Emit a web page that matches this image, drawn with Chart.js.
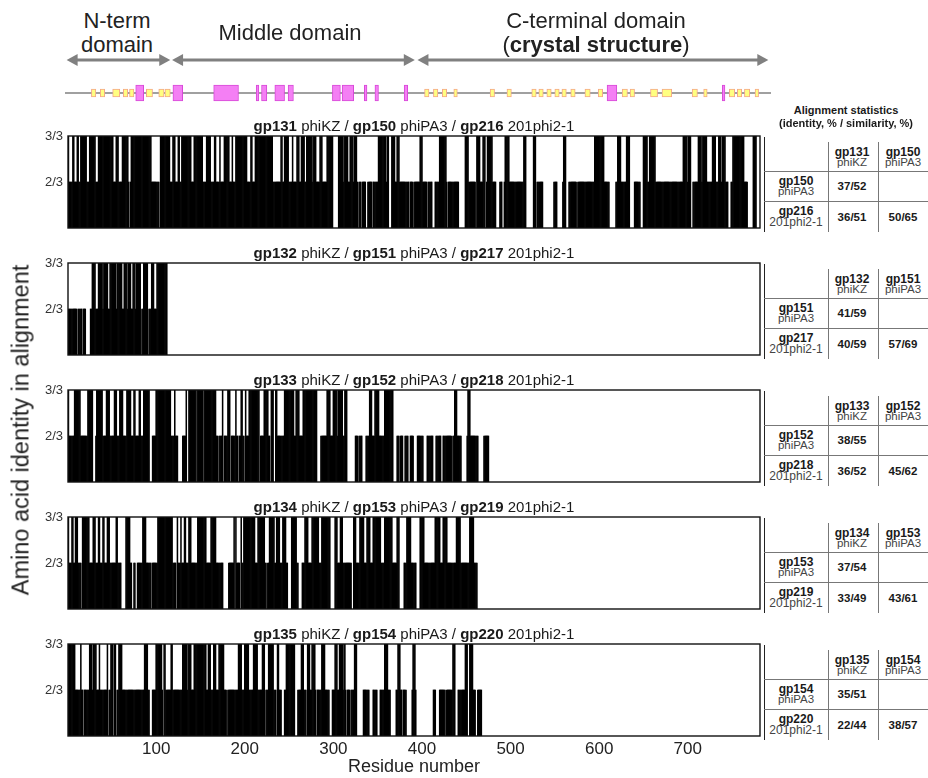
<!DOCTYPE html>
<html><head><meta charset="utf-8">
<script src="https://cdn.jsdelivr.net/npm/chart.js@4/dist/chart.umd.min.js"></script>
<style>
body{margin:0;background:#fff;width:928px;height:778px;overflow:hidden;font-family:"Liberation Sans",Arial,sans-serif;color:#1a1a1a;}
canvas{position:absolute;}
.ptitle{position:absolute;left:68px;width:692px;text-align:center;font-size:15px;line-height:18px;white-space:nowrap;}
.dom{position:absolute;text-align:center;font-size:22px;line-height:24px;white-space:nowrap;color:#222;}
.tl{position:absolute;text-align:center;white-space:nowrap;transform:translate(-50%,-50%);line-height:1;}
.b{font-weight:bold;}
.hl{position:absolute;height:1px;background:#777;}
.vl{position:absolute;width:1px;background:#777;}
</style></head>
<body>
<script>
// ---------------- DATA ----------------
const residueMax = 781;
const xTickValues = [100, 200, 300, 400, 500, 600, 700];
const yTickLabels = {2: '2/3', 3: '3/3'};

// [startResidue, endResidue, level]; level 3 = 3/3, 2 = 2/3, 1 = below 2/3 (no bar)
const gp131Segs = [[1,1,3],[2,5,2],[6,7,3],[8,10,2],[11,12,3],[13,14,2],[15,21,3],[22,24,2],[25,31,3],[32,34,2],[35,51,3],[52,54,2],[55,57,3],[58,61,2],[62,68,3],[69,69,2],[70,70,1],[71,71,2],[72,94,3],[95,103,2],[104,104,1],[105,115,3],[116,118,2],[119,121,3],[122,124,2],[125,126,3],[127,128,2],[129,139,3],[140,142,2],[143,152,3],[153,156,2],[157,161,3],[162,165,2],[166,167,3],[168,171,2],[172,172,3],[173,176,2],[177,182,3],[183,185,2],[186,186,3],[187,189,2],[190,202,3],[203,206,2],[207,208,3],[209,211,2],[212,231,3],[232,240,2],[241,242,3],[243,244,2],[245,249,3],[250,253,2],[254,254,3],[255,258,2],[259,261,3],[262,263,2],[264,267,3],[268,269,2],[270,275,3],[276,276,2],[277,280,3],[281,284,2],[285,287,3],[288,292,2],[293,299,3],[300,305,1],[306,310,3],[311,311,2],[312,316,3],[317,318,2],[319,322,3],[323,323,2],[324,326,3],[327,327,2],[328,328,1],[329,331,2],[332,332,1],[333,336,2],[337,338,1],[339,343,2],[344,344,1],[345,350,2],[351,359,3],[360,360,2],[361,362,3],[363,365,1],[366,369,3],[370,371,2],[372,374,3],[375,385,2],[386,386,1],[387,389,2],[390,390,1],[391,397,2],[398,400,3],[401,405,2],[406,406,1],[407,411,2],[412,414,1],[415,419,2],[420,427,3],[428,428,2],[429,429,1],[430,441,2],[442,448,1],[449,452,3],[453,460,2],[461,461,1],[462,465,3],[466,468,2],[469,471,3],[472,472,1],[473,473,2],[474,479,3],[480,483,2],[484,487,1],[488,490,2],[491,492,1],[493,493,2],[494,498,3],[499,514,2],[515,517,3],[518,525,1],[526,528,3],[529,529,1],[530,536,2],[537,548,1],[549,552,2],[553,558,1],[559,559,2],[560,562,3],[563,565,1],[566,574,2],[575,575,1],[576,594,2],[595,605,3],[606,611,2],[612,618,1],[619,620,2],[621,624,3],[625,630,2],[631,634,3],[635,639,1],[640,646,2],[647,649,1],[650,654,3],[655,656,2],[657,663,3],[664,694,2],[695,699,3],[700,700,2],[701,703,3],[704,705,1],[706,711,2],[712,715,3],[716,716,2],[717,721,3],[722,727,2],[728,731,3],[732,734,2],[735,737,3],[738,738,2],[739,742,3],[743,745,2],[746,748,1],[749,750,2],[751,763,3],[764,767,2],[768,773,1],[774,777,3]];

const gp132Segs = [[1,10,2],[11,11,1],[12,16,2],[17,17,1],[18,20,2],[21,25,1],[26,27,2],[28,31,3],[32,34,2],[35,39,3],[40,40,2],[41,45,3],[46,47,2],[48,54,3],[55,55,2],[56,61,3],[62,63,2],[64,67,3],[68,68,2],[69,71,3],[72,73,2],[74,76,3],[77,77,2],[78,82,3],[83,83,1],[84,85,2],[86,90,3],[91,91,1],[92,94,2],[95,97,3],[98,100,2],[101,112,3]];

const gp133Segs = [[1,1,3],[2,7,2],[8,14,3],[15,22,2],[23,28,3],[29,31,1],[32,32,2],[33,39,3],[40,43,2],[44,47,3],[48,52,2],[53,55,3],[56,58,2],[59,62,3],[63,66,2],[67,71,3],[72,74,2],[75,76,3],[77,80,2],[81,82,3],[83,85,2],[86,92,3],[93,95,1],[96,99,2],[100,116,3],[117,120,2],[121,121,3],[122,124,2],[125,129,1],[130,133,2],[134,134,3],[135,136,1],[137,145,3],[146,146,1],[147,152,3],[153,153,1],[154,167,3],[168,169,2],[170,170,1],[171,174,2],[175,175,3],[176,176,1],[177,180,2],[181,183,3],[184,184,1],[185,189,2],[190,190,3],[191,192,2],[193,193,1],[194,195,2],[196,197,3],[198,199,2],[200,200,1],[201,201,3],[202,204,2],[205,216,3],[217,217,1],[218,221,2],[222,226,3],[227,228,2],[229,229,1],[230,232,3],[233,234,1],[235,236,3],[237,244,2],[245,255,3],[256,257,2],[258,261,3],[262,265,2],[266,281,3],[282,285,1],[286,292,2],[293,296,3],[297,299,2],[300,304,3],[305,305,2],[306,310,3],[311,312,2],[313,315,3],[316,324,1],[325,327,2],[328,328,1],[329,332,2],[333,336,1],[337,340,2],[341,343,3],[344,346,2],[347,351,3],[352,357,2],[358,367,3],[368,371,1],[372,374,2],[375,375,1],[376,378,2],[379,380,1],[381,384,2],[385,386,1],[387,390,2],[391,394,1],[395,401,2],[402,405,1],[406,412,2],[413,415,1],[416,421,2],[422,423,1],[424,433,2],[434,434,1],[435,436,2],[437,439,3],[440,444,2],[445,450,1],[451,451,2],[452,454,3],[455,463,2],[464,469,1],[470,475,2]];

const gp134Segs = [[1,1,3],[2,4,2],[5,6,3],[7,8,2],[9,11,3],[12,15,2],[16,16,1],[17,24,3],[25,28,2],[29,31,3],[32,34,2],[35,36,3],[37,39,2],[40,41,3],[42,44,2],[45,47,3],[48,54,2],[55,56,3],[57,60,2],[61,65,1],[66,70,3],[71,72,2],[73,74,1],[75,76,2],[77,78,1],[79,84,2],[85,88,3],[89,94,2],[95,95,1],[96,101,2],[102,118,3],[119,122,2],[123,123,1],[124,124,3],[125,127,2],[128,128,3],[129,131,2],[132,133,3],[134,136,2],[137,139,3],[140,146,2],[147,156,3],[157,161,2],[162,167,3],[168,175,2],[176,181,1],[182,187,2],[188,188,3],[189,189,1],[190,190,3],[191,194,2],[195,195,1],[196,196,3],[197,198,2],[199,211,3],[212,214,2],[215,222,3],[223,224,2],[225,225,1],[226,227,2],[228,233,3],[234,235,2],[236,239,3],[240,242,2],[243,246,3],[247,248,2],[249,252,1],[253,258,3],[259,260,2],[261,264,1],[265,267,2],[268,271,3],[272,275,2],[276,283,3],[284,286,2],[287,296,3],[297,301,1],[302,304,3],[305,307,2],[308,310,3],[311,320,2],[321,322,1],[323,325,3],[326,329,2],[330,334,3],[335,337,2],[338,341,3],[342,344,2],[345,353,3],[354,357,2],[358,366,3],[367,371,2],[372,374,3],[375,379,1],[380,382,2],[383,387,3],[388,393,2],[394,397,1],[398,402,3],[403,414,2],[415,420,3],[421,423,2],[424,428,3],[429,438,2],[439,443,3],[444,453,2],[454,458,3],[459,462,2]];

const gp135Segs = [[1,8,3],[9,14,2],[15,15,3],[16,17,2],[18,18,1],[19,24,2],[25,27,3],[28,28,2],[29,32,3],[33,35,2],[36,36,3],[37,44,2],[45,45,3],[46,46,1],[47,48,2],[49,51,3],[52,52,1],[53,54,3],[55,55,1],[56,57,2],[58,61,3],[62,86,2],[87,90,3],[91,92,2],[93,95,1],[96,99,2],[100,106,3],[107,107,2],[108,108,1],[109,110,3],[111,116,2],[117,118,3],[119,129,2],[130,134,3],[135,135,2],[136,139,3],[140,142,2],[143,156,3],[157,158,2],[159,161,3],[162,164,2],[165,167,3],[168,170,2],[171,176,3],[177,179,2],[180,180,1],[181,192,2],[193,196,3],[197,199,2],[200,204,3],[205,209,2],[210,214,3],[215,219,2],[220,222,3],[223,223,1],[224,226,2],[227,232,3],[233,235,2],[236,236,1],[237,238,3],[239,241,2],[242,244,1],[245,246,2],[247,256,3],[257,259,1],[260,263,2],[264,266,3],[267,269,2],[270,270,1],[271,273,3],[274,275,2],[276,279,3],[280,280,2],[281,281,1],[282,286,2],[287,290,3],[291,295,2],[296,298,1],[299,301,2],[302,304,3],[305,306,2],[307,310,3],[311,311,2],[312,313,3],[314,314,2],[315,315,1],[316,318,2],[319,319,1],[320,323,2],[324,326,3],[327,333,1],[334,340,2],[341,344,1],[345,349,2],[350,352,1],[353,357,2],[358,361,3],[362,364,2],[365,370,1],[371,372,2],[373,375,3],[376,377,2],[378,378,1],[379,382,2],[383,388,1],[389,389,2],[390,392,3],[393,393,2],[394,412,1],[413,415,2],[416,419,1],[420,426,2],[427,427,1],[428,434,2],[435,437,3],[438,440,1],[441,448,2],[449,451,3],[452,453,1],[454,457,3],[458,460,2],[461,462,1],[463,467,2]];

// secondary structure of the reference protein
const helixSegs = [[77,86],[119,130],[165,193],[213,216],[219,225],[234,245],[249,255],[299,308],[310,323],[335,338],[347,351],[380,384],[609,620],[739,742]];
const strandSegs = [[27,32],[37,42],[51,59],[63,68],[70,75],[89,96],[103,109],[110,116],[403,408],[413,418],[423,428],[436,440],[477,482],[496,501],[524,529],[532,537],[541,546],[550,555],[558,563],[568,573],[584,590],[599,604],[626,632],[635,640],[658,666],[671,682],[705,711],[718,722],[747,753],[756,761],[764,770],[776,780]];
const domainRanges = [[-1,116],[118,392],[395,791]];

// panel titles and alignment statistics
const panelGenes = [
  ['gp131','gp150','gp216'],
  ['gp132','gp151','gp217'],
  ['gp133','gp152','gp218'],
  ['gp134','gp153','gp219'],
  ['gp135','gp154','gp220']
];
const phageNames = ['phiKZ','phiPA3','201phi2-1'];
const statPair12 = ['37/52','41/59','38/55','37/54','35/51'];
const statPair13 = ['36/51','40/59','36/52','33/49','22/44'];
const statPair23 = ['50/65','57/69','45/62','43/61','38/57'];

// ---------------- LAYOUT ----------------
const panelTops = [136, 263, 390, 517, 644];
const allSegs = [gp131Segs, gp132Segs, gp133Segs, gp134Segs, gp135Segs];
const FONT = '"Liberation Sans", Arial, sans-serif';

function el(tag, cls, style, html) {
  const e = document.createElement(tag);
  if (cls) e.className = cls;
  Object.assign(e.style, style || {});
  if (html !== undefined) e.innerHTML = html;
  document.body.appendChild(e);
  return e;
}

const framePlugin = {
  id: 'frame',
  afterDatasetsDraw(chart) {
    const {ctx, chartArea: a} = chart;
    ctx.save();
    ctx.strokeStyle = '#111';
    ctx.lineWidth = 1.4;
    ctx.strokeRect(a.left, a.top, a.right - a.left, a.bottom - a.top);
    ctx.restore();
  }
};

const labels = [];
for (let r = 1; r <= residueMax; r++) labels.push(String(r));

function expand(segs) {
  const vals = new Array(residueMax).fill(null);
  segs.forEach(([s, e, lv]) => {
    for (let r = s; r <= e; r++) vals[r - 1] = lv > 1 ? lv : null;
  });
  return vals;
}

allSegs.forEach((segs, i) => {
  const last = i === 4;
  const top = panelTops[i];
  const cv = el('canvas', '', {left: '18px', top: (top - 8) + 'px'});
  cv.width = 746; cv.height = last ? 142 : 102;
  const xScale = {display: last, grid: {display: false, drawTicks: false}, border: {display: false},
    ticks: {autoSkip: false, maxRotation: 0, padding: 3, color: '#222', font: {family: FONT, size: 17},
      callback: (v, idx) => xTickValues.includes(idx + 1) ? String(idx + 1) : ''},
    title: {display: true, text: 'Residue number', color: '#222', font: {family: FONT, size: 18}, padding: 0}};
  if (last) xScale.afterFit = s => { s.height = 42; s.paddingLeft = 0; s.paddingRight = 0; };
  new Chart(cv.getContext('2d'), {
    type: 'bar',
    data: {labels, datasets: [{data: expand(segs), backgroundColor: '#000', borderWidth: 0,
      barPercentage: 1, categoryPercentage: 1, base: 1}]},
    options: {
      responsive: false, animation: false, events: [],
      layout: {padding: {top: 8, right: 4, bottom: last ? 0 : 2, left: 0}},
      plugins: {legend: {display: false}, tooltip: {enabled: false}},
      scales: {
        x: xScale,
        y: {min: 1, max: 3, beginAtZero: false, grid: {display: false, drawTicks: false}, border: {display: false},
          ticks: {stepSize: 1, padding: 5, color: '#333', font: {family: FONT, size: 13},
            callback: v => yTickLabels[v] || ''},
          afterFit: s => { s.width = 50; s.paddingTop = 0; s.paddingBottom = 0; }}
      }
    },
    plugins: [framePlugin]
  });

  // panel title
  const g = panelGenes[i];
  el('div', 'ptitle', {top: (top - 19) + 'px'},
    `<b>${g[0]}</b> ${phageNames[0]} / <b>${g[1]}</b> ${phageNames[1]} / <b>${g[2]}</b> ${phageNames[2]}`);

  // statistics table
  el('div', 'vl', {left: '764px', top: (top + 1) + 'px', height: '95px', background: '#222'});
  el('div', 'vl', {left: '828px', top: (top + 6) + 'px', height: '90px'});
  el('div', 'vl', {left: '878px', top: (top + 6) + 'px', height: '90px'});
  el('div', 'hl', {left: '764px', top: (top + 35) + 'px', width: '164px'});
  el('div', 'hl', {left: '764px', top: (top + 65) + 'px', width: '164px'});
  const t = (x, y, txt, bold, size) => el('div', 'tl' + (bold ? ' b' : ''),
    {left: x + 'px', top: (top + y) + 'px', fontSize: size + 'px', color: bold ? '#1a1a1a' : '#444'}, txt);
  t(852, 16, g[0], true, 12); t(852, 27, phageNames[0], false, 11.5);
  t(903, 16, g[1], true, 12); t(903, 27, phageNames[1], false, 11.5);
  t(796, 45, g[1], true, 12); t(796, 56, phageNames[1], false, 11.5);
  t(796, 75, g[2], true, 12); t(796, 86, phageNames[2], false, 12);
  t(852, 51, statPair12[i], true, 11.5);
  t(852, 82, statPair13[i], true, 11.5);
  t(903, 82, statPair23[i], true, 11.5);
});

// table heading
el('div', 'tl b', {left: '846px', top: '110px', fontSize: '11px'}, 'Alignment statistics');
el('div', 'tl b', {left: '846px', top: '123px', fontSize: '11px'}, '(identity, % / similarity, %)');

// y axis title
el('div', '', {position: 'absolute', left: '21px', top: '430px', fontSize: '23.5px', whiteSpace: 'nowrap',
  transform: 'translate(-50%,-50%) rotate(-90deg)', color: '#222'}, 'Amino acid identity in alignment');

// domain labels
el('div', 'dom', {left: '57px', width: '120px', top: '9px'}, 'N-term<br>domain');
el('div', 'dom', {left: '190px', width: '200px', top: '21px'}, 'Middle domain');
el('div', 'dom', {left: '446px', width: '300px', top: '9px'}, 'C-terminal domain<br>(<b>crystal structure</b>)');

// secondary structure track + domain arrows
const trackPlugin = {
  id: 'track',
  beforeDatasetsDraw(chart) {
    const {ctx, scales: {x, y}} = chart;
    const yc = y.getPixelForValue(0);
    ctx.save();
    ctx.strokeStyle = '#a0a0a0'; ctx.lineWidth = 2;
    ctx.beginPath(); ctx.moveTo(x.left, yc); ctx.lineTo(x.right, yc); ctx.stroke();
    const ay = 60;
    ctx.strokeStyle = '#808080'; ctx.fillStyle = '#808080'; ctx.lineWidth = 3;
    domainRanges.forEach(([s, e]) => {
      const x1 = x.getPixelForValue(s), x2 = x.getPixelForValue(e);
      ctx.beginPath(); ctx.moveTo(x1 + 8, ay); ctx.lineTo(x2 - 8, ay); ctx.stroke();
      ctx.beginPath(); ctx.moveTo(x1, ay); ctx.lineTo(x1 + 11, ay - 6); ctx.lineTo(x1 + 11, ay + 6); ctx.closePath(); ctx.fill();
      ctx.beginPath(); ctx.moveTo(x2, ay); ctx.lineTo(x2 - 11, ay - 6); ctx.lineTo(x2 - 11, ay + 6); ctx.closePath(); ctx.fill();
    });
    ctx.restore();
  }
};
const tc = el('canvas', '', {left: '0px', top: '0px'});
tc.width = 928; tc.height = 110;
new Chart(tc.getContext('2d'), {
  type: 'bar',
  data: {labels: ['ss'], datasets: [
    {data: strandSegs.map(s => ({x: s, y: 'ss'})), backgroundColor: '#ffff80', borderColor: '#f4a98a',
      borderWidth: 1, borderSkipped: false, barThickness: 8, grouped: false},
    {data: helixSegs.map(s => ({x: s, y: 'ss'})), backgroundColor: '#f47ff4', borderColor: '#d84ad8',
      borderWidth: 1, borderSkipped: false, barThickness: 16, grouped: false}
  ]},
  options: {
    indexAxis: 'y', responsive: false, animation: false, events: [],
    layout: {padding: {left: 65, right: 157, top: 80, bottom: 4}},
    plugins: {legend: {display: false}, tooltip: {enabled: false}},
    scales: {
      x: {type: 'linear', min: -2.8, max: 794, display: false},
      y: {type: 'category', display: false}
    }
  },
  plugins: [trackPlugin]
});
</script>
</body></html>
